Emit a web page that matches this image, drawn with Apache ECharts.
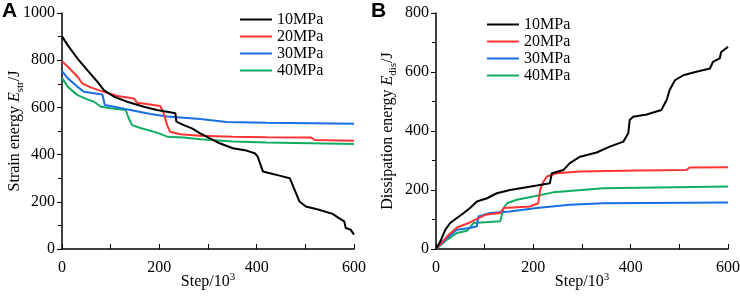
<!DOCTYPE html>
<html>
<head>
<meta charset="utf-8">
<script src="https://cdn.jsdelivr.net/npm/echarts@6/dist/echarts.min.js"></script>
<style>
  html, body { margin: 0; padding: 0; background: #fff; }
  #chart { width: 740px; height: 296px; }
</style>
</head>
<body>
<div id="chart"></div>
<script>
const seriesNames = ["10MPa", "20MPa", "30MPa", "40MPa"];
const seriesColors = ["#000000", "#ff3333", "#1a6fe0", "#10ad62"];

// panel A: strain energy, [step/10^3, J]
const strain10 = [[0, 901], [12, 863], [32, 807], [52, 758], [73, 708], [86, 673], [107, 645], [134, 624], [168, 603], [195, 589], [216, 582], [233, 575], [235, 540], [250, 525], [267, 511], [284, 490], [297, 476], [324, 448], [351, 427], [379, 417], [396, 406], [402, 392], [413, 328], [427, 321], [447, 311], [468, 300], [478, 251], [488, 201], [501, 180], [528, 166], [556, 149], [569, 131], [580, 117], [583, 89], [593, 82], [600, 61]];
const strain20 = [[0, 796], [12, 772], [32, 730], [42, 701], [59, 685], [86, 666], [114, 648], [148, 638], [154, 620], [174, 614], [202, 606], [209, 575], [216, 525], [222, 497], [243, 486], [284, 480], [351, 476], [420, 473], [512, 472], [519, 462], [600, 459]];
const strain30 = [[0, 754], [12, 723], [32, 687], [45, 666], [59, 662], [83, 655], [88, 610], [107, 603], [148, 586], [182, 572], [216, 561], [284, 551], [338, 538], [420, 535], [600, 531]];
const strain40 = [[0, 725], [12, 687], [32, 652], [52, 634], [66, 624], [80, 603], [100, 596], [131, 589], [137, 554], [144, 525], [161, 513], [195, 493], [216, 476], [250, 472], [284, 465], [351, 455], [420, 451], [600, 445]];

// panel B: dissipation energy, [step/10^3, J]
const dis10 = [[0, 0], [9, 26], [19, 65], [29, 88], [43, 105], [57, 122], [70, 139], [84, 161], [105, 172], [125, 189], [152, 200], [180, 208], [207, 215], [234, 223], [238, 257], [262, 268], [275, 291], [296, 313], [330, 327], [357, 347], [385, 364], [395, 392], [398, 437], [405, 448], [433, 456], [463, 471], [474, 505], [480, 539], [491, 572], [508, 589], [535, 601], [563, 612], [569, 634], [583, 646], [586, 668], [600, 685]];
const dis20 = [[0, 0], [23, 43], [43, 73], [70, 90], [101, 116], [132, 122], [139, 139], [193, 144], [210, 155], [214, 201], [221, 229], [228, 246], [248, 257], [296, 263], [412, 266], [515, 268], [521, 276], [600, 277]];
const dis30 = [[0, 0], [23, 37], [43, 65], [70, 71], [84, 77], [87, 110], [111, 122], [152, 127], [187, 135], [207, 139], [275, 150], [344, 155], [600, 158]];
const dis40 = [[0, 0], [23, 32], [43, 54], [64, 62], [77, 88], [132, 94], [139, 139], [146, 155], [166, 167], [200, 178], [241, 192], [344, 206], [600, 212]];

const serif = "Liberation Serif";

function xAxisFor(gridIndex) {
  return {
    type: "value",
    gridIndex: gridIndex,
    min: 0,
    max: 600,
    interval: 200,
    name: "Step/10{sup|3}",
    nameLocation: "middle",
    nameGap: 23,
    nameMoveOverlap: false,
    nameTextStyle: {
      fontFamily: serif, fontSize: 16, color: "#000", lineHeight: 20,
      rich: { sup: { fontFamily: serif, fontSize: 11, lineHeight: 11, verticalAlign: "top", color: "#000" } }
    },
    axisLine: { lineStyle: { color: "#000", width: 1.5 } },
    axisTick: { inside: true, length: 5, lineStyle: { color: "#000", width: 1 } },
    minorTick: { show: true, splitNumber: 2, length: 5, lineStyle: { color: "#000", width: 1 } },
    axisLabel: { fontFamily: serif, fontSize: 16, color: "#000", margin: 11, formatter: (v) => String(v) },
    splitLine: { show: false }
  };
}

function yAxisFor(gridIndex, max, name, gap) {
  return {
    type: "value",
    gridIndex: gridIndex,
    min: 0,
    max: max,
    interval: 200,
    name: name,
    nameLocation: "middle",
    nameGap: gap,
    nameMoveOverlap: false,
    nameTextStyle: {
      fontFamily: serif, fontSize: 16, color: "#000", lineHeight: 22,
      rich: {
        i: { fontFamily: serif, fontSize: 16, lineHeight: 22, fontStyle: "italic", color: "#000" },
        s: { fontFamily: serif, fontSize: 11, lineHeight: 11, verticalAlign: "bottom", color: "#000" }
      }
    },
    axisLine: { show: true, lineStyle: { color: "#000", width: 1.5 } },
    axisTick: { show: true, length: 5, lineStyle: { color: "#000", width: 1 } },
    minorTick: { show: true, splitNumber: 2, length: 4, lineStyle: { color: "#000", width: 1 } },
    axisLabel: { fontFamily: serif, fontSize: 16, color: "#000", margin: 7, formatter: (v) => String(v) },
    splitLine: { show: false }
  };
}

function lineSeries(name, i, data, idx) {
  return {
    name: name,
    type: "line",
    xAxisIndex: idx,
    yAxisIndex: idx,
    data: data,
    symbol: "none",
    smooth: false,
    color: seriesColors[i],
    lineStyle: { width: 2, color: seriesColors[i] },
    emphasis: { disabled: true },
    z: 10 - i
  };
}

function legendFor(left, top) {
  return {
    orient: "vertical",
    left: left,
    top: top,
    icon: "rect",
    itemWidth: 32,
    itemHeight: 2,
    itemGap: 0,
    data: seriesNames,
    textStyle: { fontFamily: serif, fontSize: 16, color: "#000", lineHeight: 17 }
  };
}

const chart = echarts.init(document.getElementById("chart"), null, { renderer: "canvas" });

chart.setOption({
  animation: false,
  backgroundColor: "#fff",
  textStyle: { fontFamily: serif },
  grid: [
    { left: 62, top: 13, width: 292, height: 236, outerBoundsMode: "none", containLabel: false },
    { left: 436, top: 13, width: 292, height: 236, outerBoundsMode: "none", containLabel: false }
  ],
  legend: [legendFor(235, 6), legendFor(482, 11)],
  xAxis: [xAxisFor(0), xAxisFor(1)],
  yAxis: [
    yAxisFor(0, 1000, "Strain energy {i|E}{s|str}/J", 36),
    yAxisFor(1, 800, "Dissipation energy {i|E}{s|dis}/J", 37)
  ],
  graphic: [
    { type: "text", left: 2, top: 1, style: { text: "A", font: 'bold 21px "Liberation Sans", Arial, sans-serif', fill: "#000" } },
    { type: "text", left: 371, top: 1, style: { text: "B", font: 'bold 21px "Liberation Sans", Arial, sans-serif', fill: "#000" } }
  ],
  series: [
    lineSeries(seriesNames[0], 0, strain10, 0),
    lineSeries(seriesNames[1], 1, strain20, 0),
    lineSeries(seriesNames[2], 2, strain30, 0),
    lineSeries(seriesNames[3], 3, strain40, 0),
    lineSeries(seriesNames[0], 0, dis10, 1),
    lineSeries(seriesNames[1], 1, dis20, 1),
    lineSeries(seriesNames[2], 2, dis30, 1),
    lineSeries(seriesNames[3], 3, dis40, 1)
  ]
});
</script>
</body>
</html>
